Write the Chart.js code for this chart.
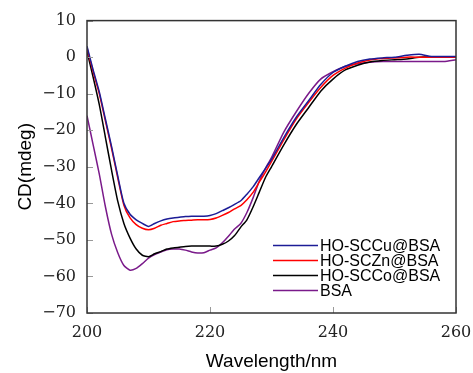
<!DOCTYPE html>
<html>
<head>
<meta charset="utf-8">
<script src="https://cdn.jsdelivr.net/npm/chart.js@4.4.1/dist/chart.umd.min.js"></script>
<style>
  html, body { margin: 0; padding: 0; background: #fff; }
  #wrap { width: 473px; height: 373px; }
</style>
</head>
<body>
<div id="wrap"><canvas id="cdChart"></canvas></div>
<script>
// wavelength (nm) and CD signal (mdeg)
const wavelengths = [200, 201, 202, 203, 204, 205, 206, 207, 208, 209, 210, 211, 212, 213, 214, 215,
  216, 217, 218, 219, 220, 221, 222, 223, 224, 225, 226, 227, 228, 229, 230,
  232, 234, 236, 238, 240, 242, 244, 246, 248, 250, 252, 254, 256, 258, 260];

const cuData = [3, -3.5, -9.5, -17, -24.5, -32.5, -40, -43, -44.5, -45.5, -46.3, -45.5, -44.8, -44.3, -44, -43.8,
  -43.6, -43.5, -43.5, -43.5, -43.3, -42.8, -42, -41.2, -40.3, -39.3, -37.5, -35.5, -33, -30.5, -28,
  -22, -16.5, -12, -7.5, -4.2, -2.5, -1.2, -0.5, -0.2, 0, 0.5, 0.8, 0.2, 0.2, 0.2];

const znData = [2.5, -4, -10, -17.5, -25, -33, -40.5, -44, -45.8, -46.8, -47.2, -46.8, -46, -45.5, -45, -44.8,
  -44.7, -44.6, -44.5, -44.5, -44.4, -44, -43.3, -42.5, -41.5, -40.6, -39, -37, -34.2, -31.5, -28.6,
  -22.6, -17, -12.5, -8.3, -5, -3, -1.6, -0.8, -0.4, -0.2, 0, 0, 0, 0, 0];

const coData = [1.6, -5.5, -13, -22, -31, -39.4, -45.5, -49.5, -52.5, -54.2, -54.6, -53.8, -53.2, -52.5, -52.2, -52,
  -51.8, -51.7, -51.7, -51.7, -51.7, -51.7, -51.2, -50.3, -48.8, -46.5, -44.5, -41, -37, -33, -30,
  -24, -18.5, -13.9, -9.3, -6, -3.5, -2.2, -1.3, -0.9, -0.7, -0.5, 0, 0, 0, 0];

const bsaData = [-16, -24, -32, -41, -48.5, -53.5, -57, -58.3, -57.8, -56.5, -55, -54, -53.3, -52.7, -52.5, -52.5,
  -52.8, -53.3, -53.6, -53.5, -52.8, -52.2, -50.8, -49, -47, -45.5, -42.5, -38.5, -34, -30.5, -27.5,
  -20.5, -15, -10, -6, -4, -2.5, -1.8, -1.4, -1.2, -1.2, -1.2, -1.2, -1.2, -1.2, -0.7];

const seriesNames = ["HO-SCCu@BSA", "HO-SCZn@BSA", "HO-SCCo@BSA", "BSA"];
const seriesColors = ["#1c1c96", "#ff0000", "#000000", "#7a1a8a"];
const xTicks = [200, 220, 240, 260];

function toPoints(values) {
  return values.map((v, i) => ({ x: wavelengths[i], y: v }));
}

// box round the plot, inward ticks and the legend inside the plot
const framePlugin = {
  id: "frame",
  afterDraw(chart) {
    const { ctx, chartArea: a, scales } = chart;
    ctx.save();
    ctx.strokeStyle = "#999";
    ctx.lineWidth = 1;
    scales.x.ticks.forEach((t) => {
      const px = Math.round(scales.x.getPixelForValue(t.value)) + 0.5;
      ctx.beginPath();
      ctx.moveTo(px, a.bottom);
      ctx.lineTo(px, a.bottom - 6);
      ctx.stroke();
    });
    scales.y.ticks.forEach((t) => {
      const py = Math.round(scales.y.getPixelForValue(t.value)) + 0.5;
      ctx.beginPath();
      ctx.moveTo(a.left, py);
      ctx.lineTo(a.left + 6, py);
      ctx.stroke();
    });
    ctx.strokeStyle = "#333";
    ctx.lineWidth = 1.5;
    ctx.strokeRect(a.left, a.top, a.right - a.left, a.bottom - a.top);

    // legend
    ctx.font = "16px 'Liberation Sans', Arial, sans-serif";
    ctx.textBaseline = "middle";
    ctx.textAlign = "left";
    chart.data.datasets.forEach((ds, i) => {
      const y = 245.5 + i * 15;
      ctx.strokeStyle = ds.borderColor;
      ctx.lineWidth = 1.5;
      ctx.beginPath();
      ctx.moveTo(273, y);
      ctx.lineTo(318, y);
      ctx.stroke();
      ctx.fillStyle = "#000";
      ctx.fillText(ds.label, 320, y + 1);
    });
    ctx.restore();
  }
};

const datasets = [cuData, znData, coData, bsaData].map((vals, i) => ({
  label: seriesNames[i],
  data: toPoints(vals),
  borderColor: seriesColors[i],
  backgroundColor: seriesColors[i],
  borderWidth: 1.5,
  pointRadius: 0,
  tension: 0.2,
  fill: false
}));

const tickFont = { family: "'DejaVu Serif', serif", size: 16 };
const titleFont = { family: "'Liberation Sans', Arial, sans-serif", size: 19 };

new Chart(document.getElementById("cdChart"), {
  type: "line",
  data: { datasets },
  options: {
    responsive: true,
    maintainAspectRatio: false,
    animation: false,
    layout: { padding: { top: 19, right: 17, bottom: 0, left: 0 } },
    plugins: {
      legend: { display: false },
      tooltip: { enabled: false }
    },
    scales: {
      x: {
        type: "linear",
        min: 200,
        max: 260,
        afterBuildTicks: (scale) => { scale.ticks = xTicks.map((v) => ({ value: v })); },
        afterFit: (scale) => {
          scale.height = 60;
          scale.paddingLeft = 0;
          scale.paddingRight = 0;
        },
        grid: { drawOnChartArea: false, drawTicks: false },
        border: { display: false },
        ticks: { color: "#222", font: tickFont, padding: 10, maxRotation: 0 },
        title: { display: true, text: "Wavelength/nm", color: "#000", font: titleFont, padding: { top: 0, bottom: 0 } }
      },
      y: {
        min: -70,
        max: 10,
        afterFit: (scale) => { scale.width = 87; },
        grid: { drawOnChartArea: false, drawTicks: false },
        border: { display: false },
        ticks: {
          stepSize: 10,
          color: "#222",
          font: tickFont,
          padding: 11,
          callback: (v) => (v < 0 ? "\u2212" + Math.abs(v) : String(v))
        },
        title: { display: true, text: "CD(mdeg)", color: "#000", font: titleFont, padding: { top: 14, bottom: 0 } }
      }
    }
  },
  plugins: [framePlugin]
});
</script>
</body>
</html>
